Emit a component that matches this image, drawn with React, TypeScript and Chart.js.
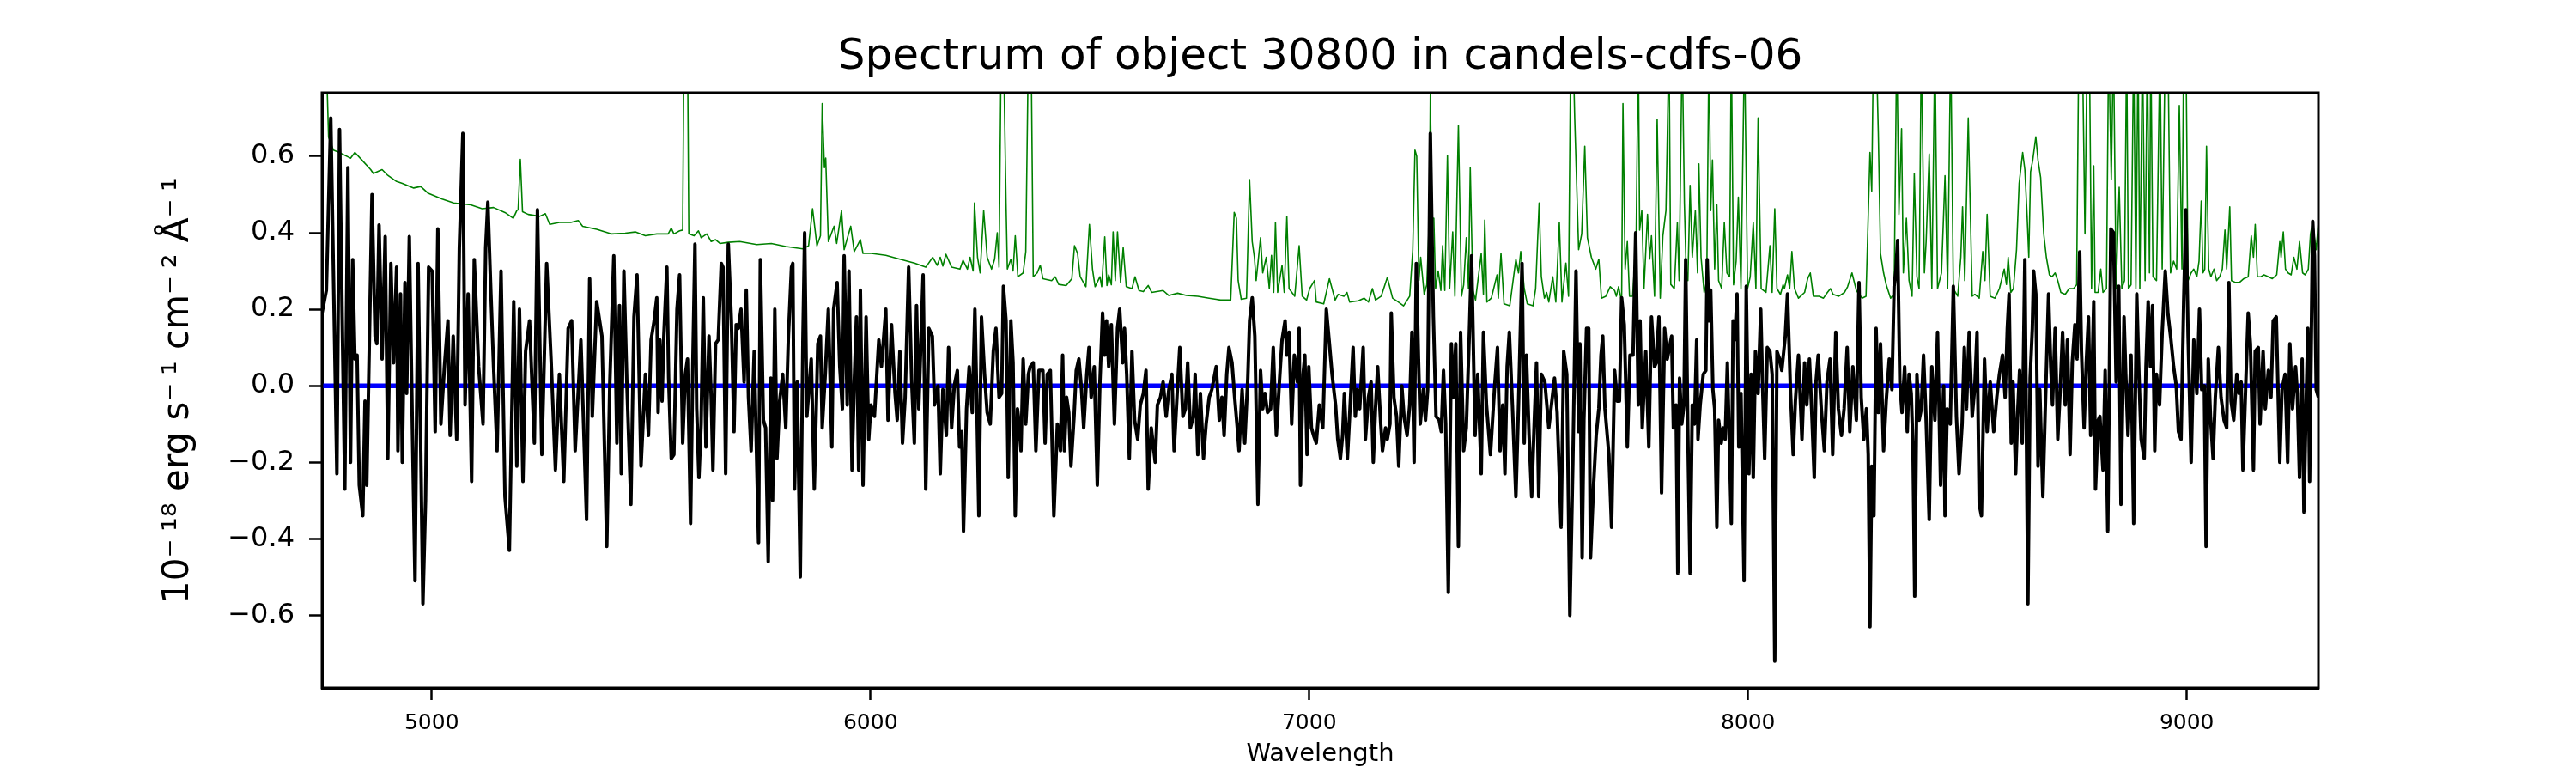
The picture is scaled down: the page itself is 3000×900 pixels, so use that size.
import { useEffect, useRef } from "react";
import { Chart, registerables } from "chart.js";

Chart.register(...registerables);

// wavelength (Angstrom) and flux (1e-18 erg/s/cm2/A) of the object spectrum
const fluxWave = [
  4750, 4760, 4770, 4784, 4790, 4796, 4802, 4809, 4815, 4820,
  4825, 4830, 4835, 4843, 4848, 4852, 4858, 4864, 4871, 4875,
  4880, 4887, 4894, 4900, 4907, 4913, 4920, 4923, 4929, 4933,
  4939, 4943, 4949, 4956, 4962, 4969, 4975, 4980, 4986, 4993,
  5001, 5008, 5014, 5021, 5029, 5037, 5042, 5049, 5057, 5063,
  5071, 5076, 5083, 5091, 5097, 5107, 5117, 5123, 5128, 5135,
  5141, 5149, 5158, 5167, 5177, 5187, 5194, 5200, 5208, 5214,
  5223, 5234, 5241, 5251, 5262, 5272, 5282, 5291, 5301, 5311,
  5319, 5327, 5340, 5353, 5360, 5366, 5376, 5388, 5399, 5406,
  5415, 5422, 5428, 5432, 5438, 5445, 5454, 5461, 5468, 5477,
  5487, 5494, 5500, 5507, 5513, 5516, 5520, 5525, 5529, 5536,
  5540, 5546, 5552, 5559, 5565, 5572, 5578, 5583, 5590, 5595,
  5600, 5604, 5609, 5614, 5619, 5625, 5632, 5637, 5641, 5647,
  5653, 5660, 5664, 5670, 5676, 5683, 5689, 5694, 5699, 5705,
  5712, 5717, 5722, 5728, 5735, 5745, 5749, 5756, 5761, 5767,
  5773, 5777, 5782, 5787, 5793, 5800, 5807, 5813, 5820, 5823,
  5827, 5833, 5840, 5846, 5850, 5855, 5865, 5872, 5880, 5886,
  5890, 5897, 5904, 5912, 5916, 5924, 5930, 5936, 5940, 5947,
  5951, 5958, 5963, 5968, 5973, 5977, 5983, 5990, 5996, 6001,
  6009, 6019, 6025, 6035, 6040, 6048, 6056, 6061, 6067, 6073,
  6079, 6087, 6094, 6100, 6105, 6110, 6120, 6126, 6133, 6141,
  6146, 6154, 6159, 6165, 6173, 6178, 6185, 6191, 6198, 6203,
  6208, 6212, 6219, 6225, 6232, 6238, 6242, 6247, 6253, 6260,
  6266, 6273, 6280, 6286, 6293, 6299, 6303, 6309, 6314, 6320,
  6325, 6330, 6335, 6339, 6343, 6348, 6354, 6360, 6364, 6371,
  6377, 6384, 6393, 6398, 6403, 6410, 6418, 6426, 6433, 6438,
  6442, 6447, 6452, 6457, 6464, 6469, 6475, 6481, 6486, 6493,
  6498, 6503, 6510, 6517, 6523, 6529, 6534, 6538, 6543, 6549,
  6556, 6563, 6568, 6575, 6579, 6584, 6590, 6596, 6602, 6609,
  6615, 6622, 6628, 6633, 6640, 6645, 6649, 6654, 6661, 6667,
  6674, 6680, 6687, 6692, 6699, 6705, 6712, 6718, 6723, 6729,
  6736, 6740, 6746, 6752, 6759, 6765, 6772, 6778, 6788, 6795,
  6801, 6806, 6812, 6817, 6824, 6830, 6836, 6840, 6847, 6853,
  6860, 6864, 6870, 6876, 6883, 6889, 6894, 6899, 6905, 6912,
  6918, 6925, 6932, 6938, 6945, 6949, 6954, 6960, 6966, 6973,
  6977, 6980, 6986, 6990, 6995, 6999, 7005, 7010, 7016, 7023,
  7031, 7039, 7046, 7052, 7060, 7065, 7071, 7076, 7080, 7087,
  7092, 7100, 7105, 7110, 7115, 7123, 7128, 7135, 7141, 7146,
  7151, 7156, 7163, 7167, 7174, 7178, 7184, 7187, 7193, 7199,
  7204, 7211, 7216, 7223, 7229, 7234, 7239, 7244, 7249, 7253,
  7260, 7265, 7270, 7276, 7283, 7289, 7296, 7301, 7306, 7311,
  7317, 7324, 7328, 7334, 7340, 7345, 7352, 7358, 7365, 7370,
  7378, 7384, 7392, 7397, 7404, 7413, 7422, 7429, 7435, 7441,
  7446, 7451, 7456, 7463, 7471, 7477, 7485, 7490, 7495, 7501,
  7507, 7513, 7518, 7523, 7529, 7537, 7546, 7552, 7559, 7565,
  7574, 7580, 7587, 7594, 7601, 7608, 7614, 7617, 7622, 7626,
  7632, 7637, 7641, 7648, 7654, 7660, 7665, 7669, 7674, 7683,
  7689, 7696, 7702, 7707, 7712, 7718, 7725, 7731, 7738, 7744,
  7750, 7754, 7759, 7767, 7774, 7780, 7787, 7791, 7797, 7803,
  7810, 7816, 7826, 7830, 7836, 7840, 7844, 7849, 7854, 7858,
  7863, 7868, 7873, 7878, 7883, 7886, 7891, 7898, 7904, 7907,
  7911, 7915, 7920, 7924, 7929, 7933, 7939, 7943, 7948, 7953,
  7962, 7966, 7970, 7975, 7979, 7984, 7991, 7996, 8002, 8007,
  8012, 8017, 8023, 8029, 8033, 8038, 8044, 8050, 8055, 8061,
  8066, 8072, 8077, 8085, 8090, 8097, 8103, 8108, 8115, 8123,
  8129, 8134, 8140, 8145, 8151, 8155, 8160, 8167, 8174, 8180,
  8187, 8193, 8200, 8206, 8213, 8219, 8226, 8232, 8239, 8247,
  8253, 8258, 8264, 8270, 8274, 8278, 8282, 8287, 8292, 8297,
  8302, 8309, 8315, 8322, 8328, 8333, 8337, 8341, 8346, 8351,
  8357, 8363, 8367, 8372, 8376, 8380, 8385, 8390, 8395, 8400,
  8406, 8413, 8419, 8426, 8432, 8439, 8446, 8449, 8454, 8461,
  8468, 8475, 8481, 8488, 8493, 8498, 8504, 8511, 8517, 8522,
  8527, 8532, 8539, 8545, 8552, 8560, 8567, 8573, 8580, 8586,
  8591, 8595, 8600, 8604, 8610, 8615, 8619, 8625, 8631, 8638,
  8643, 8648, 8651, 8656, 8661, 8665, 8672, 8677, 8685, 8690,
  8694, 8700, 8706, 8712, 8717, 8723, 8728, 8734, 8739, 8745,
  8750, 8756, 8760, 8766, 8771, 8776, 8781, 8788, 8792, 8798,
  8802, 8809, 8814, 8820, 8827, 8833, 8839, 8845, 8850, 8857,
  8861, 8866, 8873, 8879, 8886, 8891, 8896, 8903, 8907, 8912,
  8917, 8922, 8927, 8931, 8938, 8944, 8951, 8957, 8964, 8970,
  8976, 8981, 8987, 8993, 8998, 9003, 9010, 9016, 9023, 9029,
  9034, 9040, 9044, 9049, 9054, 9060, 9065, 9072, 9078, 9085,
  9091, 9096, 9101, 9107, 9114, 9119, 9124, 9128, 9134, 9140,
  9145, 9152, 9156, 9163, 9167, 9174, 9179, 9186, 9192, 9197,
  9204, 9212, 9217, 9224, 9230, 9235, 9241, 9248, 9252, 9257,
  9263, 9267, 9272, 9276, 9280, 9287, 9291, 9295, 9300,
];

const fluxValues = [
  0.19, 0.25, 0.7, -0.23, 0.67, 0.18, -0.27, 0.57, -0.2, 0.33,
  0.07, 0.08, -0.26, -0.34, -0.04, -0.26, 0.12, 0.5, 0.13, 0.11,
  0.42, 0.07, 0.39, -0.19, 0.32, 0.06, 0.31, -0.17, 0.24, -0.2,
  0.27, -0.02, 0.39, -0.11, -0.51, 0.32, -0.16, -0.57, -0.3, 0.31,
  0.3, -0.12, 0.41, -0.1, 0.05, 0.17, -0.13, 0.13, -0.14, 0.36,
  0.66, -0.05, 0.24, -0.25, 0.33, 0.05, -0.1, 0.36, 0.48, 0.24,
  0.05, -0.17, 0.3, -0.29, -0.43, 0.22, -0.21, 0.2, -0.25, 0.09,
  0.17, -0.15, 0.46, -0.18, 0.32, 0.07, -0.22, 0.03, -0.25, 0.15,
  0.17, -0.17, 0.12, -0.35, 0.28, -0.08, 0.22, 0.13, -0.42, 0.01,
  0.34, -0.15, 0.21, -0.23, 0.3, 0.0, -0.31, 0.18, 0.29, -0.21,
  0.03, -0.13, 0.12, 0.17, 0.23, -0.07, 0.12, -0.04, 0.13, 0.31,
  0.02, -0.19, -0.18, 0.2, 0.29, -0.15, 0.03, 0.07, -0.36, 0.05,
  0.37, -0.06, -0.24, -0.1, 0.23, -0.16, 0.13, -0.03, -0.22, 0.11,
  0.12, 0.32, 0.31, -0.23, 0.37, 0.17, -0.12, 0.16, 0.15, 0.2,
  0.01, 0.25, -0.03, -0.17, 0.09, -0.41, 0.33, -0.09, -0.11, -0.46,
  0.02, -0.3, 0.2, -0.19, -0.04, 0.03, -0.11, 0.13, 0.31, 0.32,
  -0.27, 0.01, -0.5, 0.12, 0.4, -0.08, 0.07, -0.27, 0.11, 0.13,
  -0.11, 0.03, 0.2, -0.16, 0.2, 0.27, 0.05, -0.06, 0.34, -0.05,
  0.3, -0.22, 0.01, 0.18, -0.22, 0.25, -0.26, 0.18, -0.14, -0.05,
  -0.08, 0.12, 0.05, 0.2, -0.09, 0.16, -0.02, -0.09, 0.09, -0.15,
  -0.03, 0.31, 0.01, -0.15, 0.21, -0.06, 0.29, -0.27, 0.15, 0.13,
  -0.05, 0.0, -0.23, -0.01, -0.13, 0.1, -0.11, 0.0, 0.04, -0.16,
  -0.12, -0.38, -0.06, 0.05, -0.07, 0.2, -0.02, -0.34, 0.18, 0.03,
  -0.07, -0.1, 0.09, 0.15, -0.03, -0.02, 0.26, 0.17, -0.24, 0.17,
  0.06, -0.34, -0.06, -0.1, -0.17, 0.07, -0.1, 0.03, 0.05, 0.06,
  -0.17, 0.04, 0.04, -0.15, 0.03, 0.04, -0.34, -0.1, -0.17, 0.08,
  -0.17, -0.03, -0.07, -0.21, -0.08, 0.04, 0.07, -0.01, -0.11, 0.03,
  0.1, -0.03, 0.05, -0.26, 0.01, 0.19, 0.08, 0.17, 0.05, 0.16,
  -0.1, 0.15, 0.2, 0.06, 0.15, 0.03, -0.19, 0.09, -0.09, -0.14,
  -0.05, -0.02, 0.04, -0.27, -0.11, -0.16, -0.2, -0.05, -0.03, 0.01,
  -0.08, -0.01, 0.03, -0.17, -0.02, 0.1, -0.08, -0.06, 0.06, -0.11,
  -0.08, 0.03, -0.18, -0.02, -0.19, -0.1, -0.03, -0.01, 0.05, -0.09,
  -0.03, -0.13, 0.03, 0.1, 0.06, -0.03, -0.11, -0.17, -0.01, -0.15,
  0.02, 0.17, 0.23, 0.13, -0.31, 0.04, -0.06, -0.02, -0.07, -0.06,
  0.1, -0.13, 0.01, 0.12, 0.17, 0.08, 0.14, -0.1, 0.08, 0.01,
  0.15, -0.26, 0.03, 0.08, -0.18, 0.05, -0.11, -0.13, -0.15, -0.05,
  -0.11, 0.2, 0.11, 0.03, -0.05, -0.14, -0.19, -0.13, -0.02, -0.19,
  -0.08, 0.1, -0.08, -0.01, -0.06, 0.1, -0.14, -0.03, 0.01, -0.2,
  -0.06, 0.05, -0.1, -0.17, -0.11, -0.14, -0.1, 0.19, -0.03, -0.08,
  -0.21, 0.0, -0.08, -0.13, -0.05, 0.14, -0.2, 0.32, 0.07, -0.1,
  -0.01, -0.09, -0.01, 0.66, 0.18, -0.08, -0.09, -0.12, 0.04, -0.1,
  -0.54, 0.11, -0.03, 0.11, -0.42, 0.14, -0.17, -0.11, 0.14, 0.34,
  -0.13, 0.03, -0.23, 0.14, -0.05, -0.18, -0.01, 0.1, -0.17, -0.05,
  -0.23, 0.05, 0.14, -0.05, -0.29, -0.05, 0.32, -0.15, 0.08, -0.13,
  -0.29, -0.09, 0.06, -0.29, 0.03, 0.01, -0.11, -0.05, 0.02, -0.07,
  -0.37, 0.09, 0.03, -0.6, -0.19, 0.3, -0.12, 0.11, -0.45, -0.09,
  0.15, 0.15, -0.45, -0.26, -0.13, -0.06, 0.08, 0.13, -0.06, -0.18,
  -0.37, 0.04, -0.04, -0.04, 0.23, 0.16, -0.16, 0.08, 0.08, 0.4,
  -0.05, 0.17, -0.11, 0.09, -0.16, 0.18, 0.05, 0.06, 0.18, -0.28,
  0.15, 0.07, 0.13, -0.11, -0.05, -0.49, 0.02, -0.1, -0.05, 0.33,
  -0.13, -0.49, -0.05, -0.1, 0.12, -0.14, -0.05, 0.03, 0.04, 0.33,
  0.17, 0.25, -0.01, -0.06, -0.37, -0.09, -0.15, -0.11, -0.14, 0.06,
  -0.36, 0.17, 0.12, 0.24, -0.16, -0.02, -0.51, 0.26, -0.23, 0.03,
  -0.24, 0.09, -0.02, 0.2, 0.01, -0.19, 0.1, 0.09, 0.03, -0.72,
  0.09, 0.07, 0.04, 0.13, 0.24, -0.02, -0.18, -0.04, 0.08, -0.14,
  0.06, -0.05, 0.07, -0.06, -0.24, 0.01, 0.08, -0.06, -0.17, 0.01,
  0.07, -0.18, 0.14, -0.06, -0.13, -0.06, 0.1, -0.12, 0.05, -0.09,
  0.27, -0.03, -0.14, -0.06, -0.18, -0.63, -0.21, -0.34, 0.15, -0.07,
  0.11, -0.17, -0.04, 0.07, -0.01, 0.26, 0.3, 0.38, 0.01, -0.07,
  0.05, -0.12, 0.03, -0.02, -0.16, -0.55, 0.03, -0.09, -0.06, 0.08,
  -0.09, -0.35, 0.05, -0.09, 0.14, -0.26, 0.0, -0.34, -0.06, -0.1,
  0.26, -0.08, -0.23, -0.1, 0.1, -0.06, 0.14, -0.08, 0.0, 0.14,
  -0.31, -0.34, 0.07, -0.12, 0.01, -0.12, -0.03, 0.03, 0.08, -0.03,
  0.15, 0.24, -0.15, 0.01, -0.23, -0.06, 0.04, -0.15, 0.33, -0.57,
  0.02, 0.15, 0.3, 0.24, -0.21, -0.01, -0.29, -0.08, 0.24, 0.05,
  -0.05, 0.15, -0.14, 0.0, 0.14, -0.05, 0.12, -0.18, 0.06, 0.16,
  0.07, 0.35, 0.09, -0.11, 0.06, 0.18, -0.13, 0.22, -0.27, -0.09,
  -0.08, -0.22, 0.04, -0.38, 0.41, 0.4, 0.01, 0.26, -0.31, 0.18,
  0.03, -0.13, 0.08, -0.36, 0.24, 0.03, -0.14, -0.19, 0.05, 0.22,
  0.05, 0.21, -0.17, 0.03, -0.05, 0.14, 0.3, 0.19, 0.12, 0.05,
  0.0, -0.12, -0.14, 0.22, 0.46, 0.13, -0.2, 0.12, -0.02, 0.2,
  -0.01, 0.0, -0.42, 0.07, -0.08, -0.19, -0.03, 0.1, -0.03, -0.09,
  -0.11, 0.27, -0.04, -0.09, 0.03, -0.02, 0.01, -0.22, -0.01, 0.19,
  0.11, -0.22, 0.09, 0.1, -0.1, 0.09, -0.06, 0.04, -0.03, 0.17,
  0.18, -0.2, -0.01, 0.03, -0.2, 0.11, -0.06, 0.05, -0.02, -0.24,
  0.07, -0.33, -0.05, 0.15, -0.25, 0.43, 0.34, -0.01, -0.03,
];

// noise / sky spectrum (green)
const noiseWave = [
  4750, 4760, 4765, 4776, 4789, 4815, 4825, 4841, 4861, 4867,
  4887, 4900, 4920, 4933, 4959, 4975, 4991, 5024, 5050, 5089,
  5115, 5141, 5167, 5186, 5194, 5197, 5202, 5207, 5220, 5246,
  5259, 5269, 5291, 5317, 5334, 5344, 5376, 5409, 5441, 5464,
  5487, 5513, 5539, 5546, 5552, 5565, 5572, 5575, 5583, 5586,
  5598, 5608, 5614, 5627, 5637, 5647, 5657, 5676, 5702, 5741,
  5774, 5807, 5846, 5859, 5868, 5878, 5886, 5890, 5895, 5898,
  5904, 5917, 5923, 5934, 5940, 5955, 5963, 5977, 5983, 6002,
  6035, 6067, 6100, 6126, 6142, 6152, 6159, 6165, 6172, 6185,
  6204, 6211, 6221, 6227, 6234, 6237, 6244, 6250, 6258, 6266,
  6276, 6283, 6289, 6293, 6298, 6303, 6309, 6312, 6320, 6325,
  6330, 6336, 6348, 6354, 6360, 6366, 6371, 6380, 6387, 6393,
  6413, 6421, 6429, 6446, 6459, 6465, 6472, 6478, 6491, 6499,
  6506, 6512, 6523, 6527, 6534, 6539, 6543, 6549, 6553, 6558,
  6563, 6570, 6576, 6583, 6596, 6603, 6612, 6622, 6633, 6641,
  6667, 6680, 6700, 6720, 6746, 6772, 6788, 6798, 6821, 6829,
  6834, 6838, 6845, 6857, 6864, 6870, 6875, 6879, 6889, 6894,
  6902, 6909, 6914, 6919, 6923, 6928, 6938, 6943, 6949, 6954,
  6967, 6977, 6984, 6994, 7001, 7012, 7016, 7033, 7046, 7059,
  7066, 7079, 7086, 7092, 7112, 7125, 7135, 7144, 7151, 7164,
  7178, 7190, 7203, 7215, 7229, 7236, 7241, 7245, 7250, 7254,
  7262, 7268, 7274, 7276, 7280, 7284, 7288, 7294, 7300, 7304,
  7309, 7315, 7320, 7327, 7332, 7340, 7347, 7352, 7358, 7363,
  7367, 7373, 7379, 7392, 7397, 7400, 7405, 7415, 7428, 7431,
  7437, 7444, 7457, 7471, 7477, 7482, 7490, 7497, 7510, 7516,
  7524, 7529, 7536, 7541, 7546, 7555, 7562, 7570, 7576, 7585,
  7591, 7596, 7601, 7605, 7614, 7621, 7628, 7634, 7643, 7653,
  7660, 7666, 7676, 7686, 7696, 7700, 7705, 7712, 7715, 7720,
  7725, 7730, 7737, 7745, 7750, 7753, 7758, 7763, 7771, 7776,
  7780, 7787, 7793, 7800, 7806, 7813, 7820, 7824, 7832, 7839,
  7843, 7850, 7855, 7859, 7863, 7868, 7873, 7880, 7885, 7888,
  7893, 7900, 7906, 7911, 7915, 7919, 7924, 7929, 7933, 7940,
  7946, 7952, 7958, 7962, 7967, 7973, 7978, 7984, 7992, 7999,
  8005, 8012, 8018, 8023, 8030, 8041, 8050, 8055, 8061, 8066,
  8074, 8080, 8083, 8090, 8095, 8100, 8106, 8115, 8129, 8136,
  8142, 8149, 8162, 8172, 8181, 8188, 8194, 8207, 8220, 8227,
  8237, 8247, 8260, 8269, 8278, 8282, 8286, 8292, 8297, 8302,
  8309, 8315, 8325, 8333, 8339, 8344, 8350, 8354, 8361, 8367,
  8374, 8379, 8385, 8390, 8395, 8402, 8406, 8413, 8419, 8426,
  8432, 8441, 8449, 8455, 8462, 8468, 8478, 8485, 8489, 8494,
  8502, 8511, 8517, 8527, 8535, 8540, 8545, 8552, 8563, 8573,
  8584, 8589, 8593, 8599, 8605, 8612, 8618, 8626, 8631, 8636,
  8640, 8644, 8649, 8656, 8661, 8667, 8674, 8680, 8687, 8693,
  8700, 8706, 8713, 8723, 8732, 8742, 8749, 8754, 8762, 8768,
  8773, 8778, 8783, 8788, 8791, 8798, 8804, 8809, 8817, 8822,
  8828, 8833, 8839, 8846, 8852, 8858, 8863, 8867, 8873, 8879,
  8884, 8889, 8893, 8899, 8905, 8910, 8915, 8918, 8923, 8931,
  8939, 8944, 8951, 8957, 8963, 8970, 8977, 8983, 8989, 8993,
  8998, 9003, 9010, 9016, 9023, 9028, 9033, 9037, 9041, 9045,
  9050, 9055, 9062, 9068, 9075, 9081, 9087, 9091, 9098, 9102,
  9111, 9120, 9130, 9140, 9147, 9152, 9156, 9161, 9169, 9176,
  9186, 9195, 9205, 9212, 9215, 9220, 9225, 9231, 9238, 9244,
  9251, 9257, 9264, 9270, 9277, 9282, 9287, 9291, 9295, 9300,
];

const noiseValues = [
  0.9, 0.85, 0.65, 0.616, 0.61, 0.595, 0.61, 0.59, 0.565, 0.555,
  0.565, 0.55, 0.534, 0.529, 0.517, 0.521, 0.504, 0.488, 0.478, 0.473,
  0.463, 0.466, 0.453, 0.438, 0.458, 0.46, 0.592, 0.455, 0.448, 0.443,
  0.45, 0.422, 0.427, 0.427, 0.432, 0.417, 0.409, 0.397, 0.399, 0.402,
  0.392, 0.397, 0.397, 0.412, 0.397, 0.405, 0.407, 0.9, 0.9, 0.397,
  0.392, 0.405, 0.387, 0.397, 0.377, 0.382, 0.372, 0.375, 0.377, 0.369,
  0.372, 0.364, 0.358, 0.366, 0.463, 0.366, 0.392, 0.738, 0.57, 0.595,
  0.377, 0.417, 0.372, 0.458, 0.356, 0.417, 0.351, 0.382, 0.346, 0.346,
  0.341, 0.331, 0.321, 0.31, 0.336, 0.315, 0.336, 0.313, 0.344, 0.31,
  0.305, 0.328, 0.305, 0.336, 0.3, 0.478, 0.336, 0.295, 0.458, 0.336,
  0.305, 0.331, 0.4, 0.31, 0.9, 0.9, 0.478, 0.305, 0.331, 0.3,
  0.392, 0.285, 0.295, 0.351, 0.9, 0.9, 0.285, 0.295, 0.315, 0.28,
  0.275, 0.285, 0.265, 0.262, 0.28, 0.366, 0.346, 0.285, 0.259, 0.422,
  0.305, 0.259, 0.285, 0.259, 0.389, 0.262, 0.29, 0.264, 0.402, 0.275,
  0.402, 0.27, 0.361, 0.259, 0.254, 0.285, 0.249, 0.246, 0.262, 0.244,
  0.249, 0.236, 0.242, 0.236, 0.234, 0.229, 0.226, 0.224, 0.224, 0.453,
  0.438, 0.275, 0.226, 0.229, 0.539, 0.377, 0.336, 0.275, 0.387, 0.295,
  0.336, 0.254, 0.341, 0.244, 0.427, 0.244, 0.315, 0.244, 0.443, 0.254,
  0.234, 0.366, 0.234, 0.224, 0.254, 0.275, 0.219, 0.214, 0.28, 0.224,
  0.239, 0.234, 0.244, 0.219, 0.222, 0.229, 0.219, 0.254, 0.224, 0.234,
  0.283, 0.229, 0.219, 0.209, 0.234, 0.356, 0.616, 0.6, 0.275, 0.336,
  0.239, 0.264, 0.448, 0.76, 0.438, 0.438, 0.254, 0.3, 0.249, 0.366,
  0.249, 0.602, 0.254, 0.402, 0.234, 0.68, 0.234, 0.264, 0.387, 0.254,
  0.57, 0.249, 0.224, 0.346, 0.239, 0.433, 0.219, 0.229, 0.29, 0.229,
  0.346, 0.214, 0.209, 0.331, 0.295, 0.351, 0.254, 0.214, 0.209, 0.254,
  0.478, 0.285, 0.229, 0.244, 0.219, 0.285, 0.219, 0.427, 0.219, 0.321,
  0.234, 0.9, 0.9, 0.702, 0.356, 0.397, 0.626, 0.387, 0.336, 0.305,
  0.331, 0.229, 0.234, 0.259, 0.249, 0.234, 0.259, 0.219, 0.738, 0.305,
  0.377, 0.234, 0.234, 0.377, 0.9, 0.407, 0.458, 0.254, 0.448, 0.331,
  0.392, 0.234, 0.697, 0.229, 0.392, 0.458, 0.9, 0.265, 0.254, 0.427,
  0.275, 0.9, 0.478, 0.305, 0.275, 0.524, 0.336, 0.458, 0.295, 0.58,
  0.336, 0.244, 0.275, 0.9, 0.458, 0.59, 0.305, 0.473, 0.275, 0.254,
  0.427, 0.295, 0.285, 0.9, 0.264, 0.326, 0.493, 0.254, 0.9, 0.254,
  0.285, 0.427, 0.254, 0.7, 0.254, 0.244, 0.366, 0.244, 0.463, 0.254,
  0.239, 0.264, 0.254, 0.29, 0.254, 0.351, 0.254, 0.229, 0.244, 0.28,
  0.295, 0.234, 0.234, 0.229, 0.244, 0.254, 0.239, 0.234, 0.244, 0.259,
  0.295, 0.249, 0.229, 0.234, 0.61, 0.509, 0.9, 0.9, 0.661, 0.346,
  0.295, 0.264, 0.229, 0.239, 0.9, 0.448, 0.672, 0.295, 0.438, 0.275,
  0.234, 0.555, 0.285, 0.254, 0.9, 0.295, 0.377, 0.606, 0.254, 0.9,
  0.254, 0.295, 0.549, 0.254, 0.9, 0.254, 0.234, 0.336, 0.468, 0.275,
  0.7, 0.234, 0.239, 0.229, 0.351, 0.275, 0.448, 0.234, 0.229, 0.254,
  0.305, 0.265, 0.336, 0.244, 0.254, 0.356, 0.529, 0.61, 0.565, 0.448,
  0.336, 0.559, 0.59, 0.651, 0.59, 0.544, 0.397, 0.336, 0.29, 0.285,
  0.295, 0.275, 0.244, 0.239, 0.254, 0.254, 0.264, 0.9, 0.9, 0.397,
  0.9, 0.9, 0.254, 0.575, 0.244, 0.244, 0.305, 0.244, 0.254, 0.9,
  0.539, 0.9, 0.254, 0.519, 0.254, 0.275, 0.9, 0.254, 0.264, 0.9,
  0.254, 0.9, 0.254, 0.9, 0.275, 0.9, 0.295, 0.9, 0.285, 0.275,
  0.9, 0.305, 0.9, 0.9, 0.295, 0.326, 0.305, 0.733, 0.305, 0.9,
  0.9, 0.275, 0.295, 0.305, 0.285, 0.326, 0.483, 0.295, 0.305, 0.626,
  0.305, 0.285, 0.305, 0.275, 0.285, 0.305, 0.407, 0.305, 0.468, 0.275,
  0.27, 0.27, 0.28, 0.285, 0.392, 0.336, 0.422, 0.285, 0.285, 0.29,
  0.285, 0.28, 0.29, 0.377, 0.336, 0.402, 0.305, 0.295, 0.29, 0.336,
  0.305, 0.377, 0.295, 0.29, 0.305, 0.397, 0.427, 0.387, 0.356, 0.427,
];

// zero-level continuum (blue)
const continuumWave = [4750, 9300];
const continuumValues = [0, 0];

const xTickValues = [5000, 6000, 7000, 8000, 9000];
const yTickValues = [-0.6, -0.4, -0.2, 0, 0.2, 0.4, 0.6];

const FONT = "DejaVu Sans";

const toPoints = (xs: number[], ys: number[]) =>
  xs.map((x, i) => ({ x, y: ys[i] }));

const formatY = (v: number) => {
  const r = Math.round(v * 10) / 10;
  return (r < 0 ? "\u2212" : "") + Math.abs(r).toFixed(1);
};

// superscript minus followed by a thin space, as in matplotlib mathtext
const SUP_MINUS = "\u207B\u2009";
const yLabel =
  "10" + SUP_MINUS + "\u00B9\u2078 erg s" + SUP_MINUS + "\u00B9 cm" +
  SUP_MINUS + "\u00B2 \u00C5" + SUP_MINUS + "\u00B9";

// box around the axes, like matplotlib spines
const framePlugin = {
  id: "frame",
  afterDraw(chart: Chart) {
    const { ctx, chartArea: a } = chart;
    ctx.save();
    ctx.strokeStyle = "#000000";
    ctx.lineWidth = 3;
    ctx.strokeRect(a.left, a.top, a.right - a.left, a.bottom - a.top);
    ctx.restore();
  },
};

function SpectrumChart() {
  const canvasRef = useRef<HTMLCanvasElement>(null);
  const chartRef = useRef<Chart | null>(null);

  useEffect(() => {
    if (!canvasRef.current) return;
    if (chartRef.current) chartRef.current.destroy();

    chartRef.current = new Chart(canvasRef.current, {
      type: "scatter",
      data: {
        datasets: [
          {
            label: "flux",
            data: toPoints(fluxWave, fluxValues),
            showLine: true,
            borderColor: "#000000",
            borderWidth: 4,
            borderJoinStyle: "round",
            pointRadius: 0,
            clip: 0,
          },
          {
            label: "continuum",
            data: toPoints(continuumWave, continuumValues),
            showLine: true,
            borderColor: "#0000ff",
            borderWidth: 5.5,
            pointRadius: 0,
            clip: 0,
          },
          {
            label: "noise",
            data: toPoints(noiseWave, noiseValues),
            showLine: true,
            borderColor: "#008000",
            borderWidth: 1.6,
            borderJoinStyle: "round",
            pointRadius: 0,
            clip: 0,
          },
        ],
      },
      options: {
        responsive: false,
        animation: false,
        devicePixelRatio: 1,
        layout: { padding: { left: 0, right: 300, top: 0, bottom: 0 } },
        plugins: {
          legend: { display: false },
          tooltip: { enabled: false },
          title: {
            display: true,
            fullSize: false,
            text: "Spectrum of object 30800 in candels-cdfs-06",
            color: "#000000",
            font: { family: FONT, size: 50, weight: "normal" },
            padding: { top: 37, bottom: 11 },
          },
        },
        scales: {
          x: {
            type: "linear",
            position: "bottom",
            min: 4750,
            max: 9300,
            afterBuildTicks: (s: any) => {
              s.ticks = xTickValues.map((v) => ({ value: v }));
            },
            afterFit: (s: any) => {
              s.height = 99;
            },
            ticks: {
              color: "#000000",
              font: { family: FONT, size: 25 },
              padding: 12,
              maxRotation: 0,
              autoSkip: false,
              callback: (v: any) => String(v),
            },
            grid: {
              drawOnChartArea: false,
              drawTicks: true,
              tickLength: 14,
              tickWidth: 2.5,
              tickColor: "#000000",
            },
            border: { display: true, color: "#000000", width: 3 },
            title: {
              display: true,
              text: "Wavelength",
              color: "#000000",
              font: { family: FONT, size: 29 },
              padding: { top: 0, bottom: 4 },
            },
          },
          y: {
            type: "linear",
            min: -0.79,
            max: 0.766,
            afterBuildTicks: (s: any) => {
              s.ticks = yTickValues.map((v) => ({ value: v }));
            },
            afterFit: (s: any) => {
              s.width = 375;
            },
            ticks: {
              color: "#000000",
              font: { family: FONT, size: 32 },
              padding: 17,
              callback: (v: any) => formatY(Number(v)),
            },
            grid: {
              drawOnChartArea: false,
              drawTicks: true,
              tickLength: 15,
              tickWidth: 2.5,
              tickColor: "#000000",
            },
            border: { display: true, color: "#000000", width: 3 },
            title: {
              display: true,
              text: yLabel,
              color: "#000000",
              font: { family: FONT, size: 42 },
              padding: { top: 183, bottom: 0 },
            },
          },
        },
      },
      plugins: [framePlugin],
    } as any);

    return () => {
      if (chartRef.current) {
        chartRef.current.destroy();
        chartRef.current = null;
      }
    };
  }, []);

  return (
    <div
      style={{
        position: "absolute",
        left: 0,
        top: 0,
        width: 3000,
        height: 900,
        background: "#ffffff",
      }}
    >
      <canvas ref={canvasRef} width={3000} height={900} style={{ display: "block" }} />
    </div>
  );
}

export default function App() {
  return <SpectrumChart />;
}
